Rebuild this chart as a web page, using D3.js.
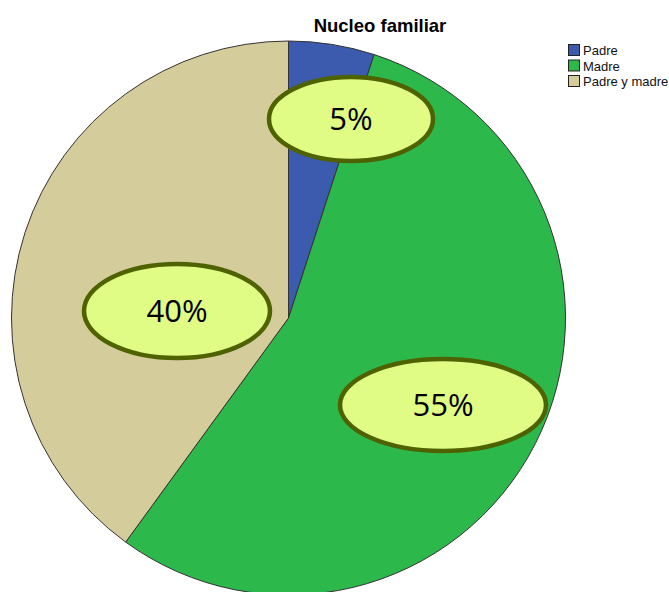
<!DOCTYPE html>
<html><head><meta charset="utf-8">
<script src="https://cdn.jsdelivr.net/npm/d3@7"></script>
<style>body{margin:0;background:#fff}svg{display:block}</style>
</head><body>
<script>
const categories = ["Padre", "Madre", "Padre y madre"];
const values = [5, 55, 40];
const labels = ["5%", "55%", "40%"];
const colors = ["#3C5AAE", "#2DB84B", "#D4CC9B"];

const W = 669, H = 592;
const svg = d3.select("body").append("svg").attr("width", W).attr("height", H);

const cx = 288.5, cy = 318, r = 277;
const pie = d3.pie().sort(null).value(d => d)(values);
const arc = d3.arc().innerRadius(0).outerRadius(r);
const g = svg.append("g").attr("transform", `translate(${cx},${cy})`);
g.selectAll("path").data(pie).join("path")
  .attr("d", arc).attr("fill", (d, i) => colors[i])
  .attr("stroke", "#333").attr("stroke-width", 1);

svg.append("text").attr("x", 380).attr("y", 32).attr("text-anchor", "middle")
  .attr("font-family", "Liberation Sans, Arial, sans-serif").attr("font-weight", "bold")
  .attr("font-size", 18.5).text("Nucleo familiar");

const lg = svg.append("g");
categories.forEach((c, i) => {
  const y = 44 + i * 15.5;
  lg.append("rect").attr("x", 568.5).attr("y", y + 0.5).attr("width", 11).attr("height", 11)
    .attr("fill", colors[i]).attr("stroke", "#222").attr("stroke-width", 1);
  lg.append("text").attr("x", 583).attr("y", y + 11)
    .attr("font-family", "Liberation Sans, Arial, sans-serif").attr("font-size", 13)
    .attr("fill", "#111").text(c);
});

// callout ellipses placed per slice
const callouts = [
  {cx: 351, cy: 119, rx: 82, ry: 42},
  {cx: 443, cy: 405, rx: 103, ry: 46},
  {cx: 177, cy: 311, rx: 93, ry: 47}
];
const cg = svg.append("g");
labels.forEach((t, i) => {
  const c = callouts[i];
  cg.append("ellipse").attr("cx", c.cx).attr("cy", c.cy).attr("rx", c.rx).attr("ry", c.ry)
    .attr("fill", "#E0FC84").attr("stroke", "#4E6200").attr("stroke-width", 4.5);
  cg.append("text").attr("x", c.cx).attr("y", c.cy + 11).attr("text-anchor", "middle")
    .attr("font-family", "Open Sans, Liberation Sans, sans-serif").attr("font-size", 31)
    .attr("fill", "#000").text(t);
});
</script>
</body></html>
